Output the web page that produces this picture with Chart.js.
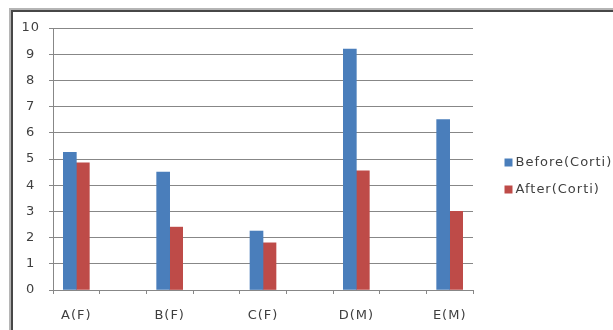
<!DOCTYPE html>
<html>
<head>
<meta charset="utf-8">
<script src="https://cdn.jsdelivr.net/npm/chart.js@4"></script>
<style>
  html, body { margin: 0; padding: 0; background: #fff; }
  #wrap { position: relative; width: 613px; height: 330px; overflow: hidden; background: #fff; }
  #wrap canvas { position: absolute; left: 0; top: 0; }
  #frame { position: absolute; left: 9px; top: 8px; width: 700px; height: 400px;
           border-top: 2px solid #b5b5b5; border-left: 2px solid #b5b5b5; pointer-events: none; }
  #frame div { width: 100%; height: 100%; border-top: 2px solid #474747; border-left: 2px solid #474747; }
</style>
</head>
<body>
<div id="wrap">
  <canvas id="chart" width="613" height="330"></canvas>
  <div id="frame"><div></div></div>
</div>
<script>
// Cortisol readings per subject
const categories = ['A(F)', 'B(F)', 'C(F)', 'D(M)', 'E(M)'];
const beforeCorti = [5.25, 4.5, 2.25, 9.2, 6.5];
const afterCorti = [4.85, 2.4, 1.8, 4.55, 3.0];
const seriesNames = ['Before(Corti)', 'After(Corti)'];
const yMin = 0;
const yMax = 10;
const yStep = 1;

const gridColor = '#878787';
const textColor = '#3f3f3f';
const fontFamily = "'DejaVu Sans', sans-serif";

Chart.defaults.font.family = fontFamily;
Chart.defaults.font.size = 13;
Chart.defaults.color = textColor;

const toPoints = arr => arr.map((v, i) => ({ x: i, y: v }));

// slightly widened lettering for all chart text
const spacing = {
  id: 'spacing',
  beforeUpdate(c) { c.ctx.letterSpacing = '1px'; },
  beforeDraw(c) { c.ctx.letterSpacing = '1px'; }
};

new Chart(document.getElementById('chart'), {
  type: 'bar',
  data: {
    datasets: [
      { label: seriesNames[0], data: toPoints(beforeCorti), backgroundColor: '#4a7ebb', borderWidth: 0 },
      { label: seriesNames[1], data: toPoints(afterCorti), backgroundColor: '#be4b48', borderWidth: 0 }
    ]
  },
  options: {
    responsive: false,
    animation: false,
    devicePixelRatio: 1,
    barThickness: 13,
    layout: { padding: { left: 21.5, top: 28, right: 0, bottom: 6 } },
    scales: {
      x: {
        type: 'linear',
        offset: false,
        min: -0.25,
        max: categories.length - 0.75,
        afterBuildTicks(axis) {
          const t = [];
          categories.forEach((_, i) => { t.push({ value: i - 0.25 }, { value: i }, { value: i + 0.25 }); });
          axis.ticks = t;
        },
        afterFit(s) { s.height = 34; },
        ticks: {
          autoSkip: false,
          maxRotation: 0,
          minRotation: 0,
          padding: 14,
          color: textColor,
          callback: v => (Number.isInteger(v) ? categories[v] : '')
        },
        grid: {
          offset: false,
          drawOnChartArea: false,
          drawTicks: true,
          tickLength: 4,
          tickColor: ctx => (ctx.tick && Number.isInteger(ctx.tick.value) ? 'rgba(0,0,0,0)' : gridColor)
        },
        border: { color: gridColor, width: 1 }
      },
      y: {
        min: yMin,
        max: yMax,
        afterFit(s) { s.width = 31.5; },
        ticks: { stepSize: yStep, padding: 9, crossAlign: 'center', color: textColor },
        grid: { color: gridColor, tickLength: 4, drawTicks: true },
        border: { color: gridColor, width: 1 }
      },
      gap: {
        type: 'linear',
        position: 'right',
        display: true,
        grid: { display: false },
        border: { display: false },
        ticks: { display: false },
        afterFit(s) { s.width = 21; }
      }
    },
    plugins: {
      tooltip: { enabled: false },
      legend: {
        position: 'right',
        align: 'center',
        maxWidth: 119,
        labels: {
          usePointStyle: true,
          pointStyle: 'rect',
          boxWidth: 1,
          boxHeight: 8,
          padding: 14,
          color: textColor,
          font: { size: 13 }
        }
      }
    }
  },
  plugins: [spacing]
});
</script>
</body>
</html>
